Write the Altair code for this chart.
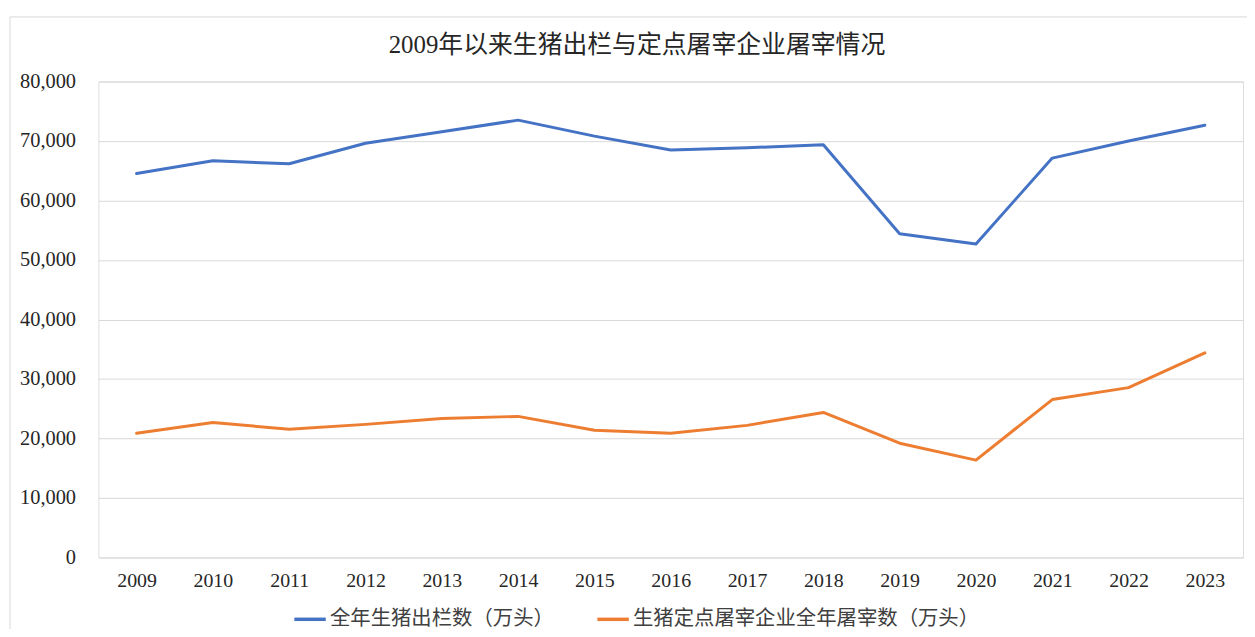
import altair as alt
import pandas as pd

years = ["2009", "2010", "2011", "2012", "2013", "2014", "2015", "2016",
         "2017", "2018", "2019", "2020", "2021", "2022", "2023"]
s1_name = "全年生猪出栏数（万头）"
s2_name = "生猪定点屠宰企业全年屠宰数（万头）"
s1_values = [64539, 66686, 66170, 69628, 71557, 73510, 70825, 68502,
             68861, 69382, 54419, 52704, 67128, 69995, 72662]
s2_values = [20870, 22700, 21540, 22370, 23370, 23710, 21370, 20870,
             22200, 24370, 19200, 16360, 26540, 28550, 34390]
y_ticks = [0, 10000, 20000, 30000, 40000, 50000, 60000, 70000, 80000]
title_text = "2009年以来生猪出栏与定点屠宰企业屠宰情况"

rows = []
for y, v in zip(years, s1_values):
    rows.append({"year": y, "series": s1_name, "value": v})
for y, v in zip(years, s2_values):
    rows.append({"year": y, "series": s2_name, "value": v})
df = pd.DataFrame(rows)

FONT = "'Liberation Serif', 'Times New Roman', 'Noto Sans CJK SC', serif"

W, H = 1152, 479

lines = alt.Chart(df).mark_line(strokeWidth=3, strokeCap="round", strokeJoin="round").encode(
    x=alt.X("year:N", sort=years, title=None,
            scale=alt.Scale(paddingInner=0, paddingOuter=0),
            axis=alt.Axis(labelAngle=0, labelFont=FONT, labelFontSize=20,
                          labelColor="#262626", labelPadding=13, ticks=False,
                          domain=False, grid=False)),
    y=alt.Y("value:Q", title=None,
            scale=alt.Scale(domain=[0, 80000], nice=False),
            axis=alt.Axis(values=y_ticks, format=",.0f", labelFont=FONT,
                          labelFontSize=20.5, labelColor="#262626", labelPadding=23,
                          ticks=False, domain=False, gridColor="#d9d9d9",
                          gridWidth=1)),
    color=alt.Color("series:N", sort=[s1_name, s2_name],
                    scale=alt.Scale(domain=[s1_name, s2_name],
                                    range=["#4472C4", "#ED7D31"]),
                    legend=alt.Legend(title=None, orient="none", direction="horizontal",
                                      legendX=195, legendY=523,
                                      symbolType="stroke", symbolStrokeWidth=3.5,
                                      symbolSize=1000, labelFont=FONT,
                                      labelFontSize=20.5, labelColor="#404040",
                                      labelLimit=0,
                                      columnPadding=36, labelOffset=2)),
)

frame = alt.Chart(pd.DataFrame({"k": [0]})).mark_rect(
    fill=None, stroke="#d9d9d9", strokeWidth=1, clip=False
).encode(
    x=alt.value(-89), x2=alt.value(W + 20),
    y=alt.value(-65), y2=alt.value(H + 100),
)

chart = alt.layer(frame, lines).properties(
    width=W, height=H,
    title=alt.Title(title_text, font=FONT, fontSize=25, fontWeight="normal",
                    color="#262626", offset=-42, anchor="middle", dx=-34),
    autosize=alt.AutoSizeParams(type="none"),
    padding={"left": 91, "top": 72, "right": 4, "bottom": 70},
).configure_view(stroke=None).configure(background="white")

chart.save("out.html", embed_options={"renderer": "svg", "actions": False})
